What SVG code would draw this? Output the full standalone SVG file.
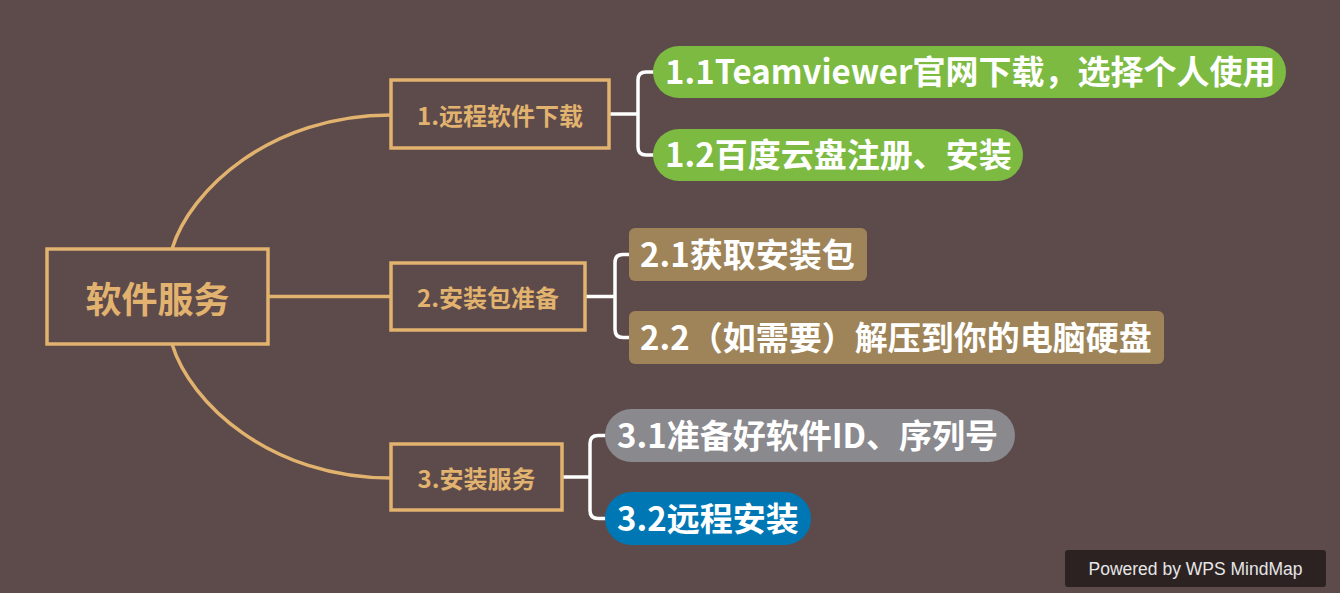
<svg xmlns="http://www.w3.org/2000/svg" width="1340" height="593" viewBox="0 0 1340 593">
<style>
.box{fill:none;stroke:#e2b36f;stroke-width:3.5}
.gold{stroke:#e2b36f;stroke-width:3.5;fill:none}
.wht{stroke:#ffffff;stroke-width:3.5;fill:none}
.bt{font-family:"Noto Sans CJK SC","Noto Sans",sans-serif;font-weight:bold;fill:#e2b36f;text-anchor:middle;dominant-baseline:central}
.ct{font-family:"Noto Sans CJK SC","Noto Sans",sans-serif;font-weight:bold;fill:#ffffff;font-size:33px}
</style>
<rect width="1340" height="593" fill="#5d4a4a"/>
<g id="connectors">
<path class="gold" d="M172,249 C190,190 270,115 391,115"/>
<path class="gold" d="M172,344 C190,403 270,478 391,478"/>
<path class="gold" d="M268,296.5 H391"/>
<path class="wht" d="M609,114 H638 M655,72 H646 Q638,72 638,80 V147 Q638,155 646,155 H655"/>
<path class="wht" d="M585,296.5 H615 M631,254.5 H623 Q615,254.5 615,262.5 V329.5 Q615,337.5 623,337.5 H631"/>
<path class="wht" d="M562,477 H590 M607,435.5 H598 Q590,435.5 590,443.5 V510.5 Q590,518.5 598,518.5 H607"/>
</g>
<g id="root">
<rect class="box" x="47" y="249" width="221" height="95"/>
<text class="bt" x="157.5" y="297" font-size="36">软件服务</text>
</g>
<g id="n1">
<rect class="box" x="391" y="80" width="218" height="68"/>
<text class="bt" x="500" y="114" font-size="24">1.远程软件下载</text>
</g>
<g id="n2">
<rect class="box" x="391" y="263" width="194" height="67"/>
<text class="bt" x="488" y="296.5" font-size="24">2.安装包准备</text>
</g>
<g id="n3">
<rect class="box" x="391" y="444" width="171" height="66"/>
<text class="bt" x="476.5" y="477" font-size="24">3.安装服务</text>
</g>
<g id="n11">
<rect x="653" y="46" width="633" height="52" rx="26" fill="#7dba42"/>
<text class="ct" x="665" y="84">1.1Teamviewer官网下载，选择个人使用</text>
</g>
<g id="n12">
<rect x="653" y="129" width="370" height="52" rx="26" fill="#7dba42"/>
<text class="ct" x="665" y="167">1.2百度云盘注册、安装</text>
</g>
<g id="n21">
<rect x="629" y="228" width="238" height="53" rx="6" fill="#9e8458"/>
<text class="ct" x="640" y="267">2.1获取安装包</text>
</g>
<g id="n22">
<rect x="629" y="311" width="535" height="53" rx="6" fill="#9e8458"/>
<text class="ct" x="640" y="350">2.2（如需要）解压到你的电脑硬盘</text>
</g>
<g id="n31">
<rect x="605" y="409" width="410" height="53" rx="26.5" fill="#8a898e"/>
<text class="ct" x="617" y="448">3.1准备好软件ID、序列号</text>
</g>
<g id="n32">
<rect x="605" y="492" width="206" height="53" rx="26.5" fill="#0077b5"/>
<text class="ct" x="617" y="531">3.2远程安装</text>
</g>
<g id="watermark">
<rect x="1065" y="550" width="261" height="37" rx="3" fill="#2d2222"/>
<text x="1195.5" y="575" font-family="Liberation Sans, Arial, sans-serif" font-size="17.5" fill="#e6e6e6" text-anchor="middle">Powered by WPS MindMap</text>
</g>
</svg>
